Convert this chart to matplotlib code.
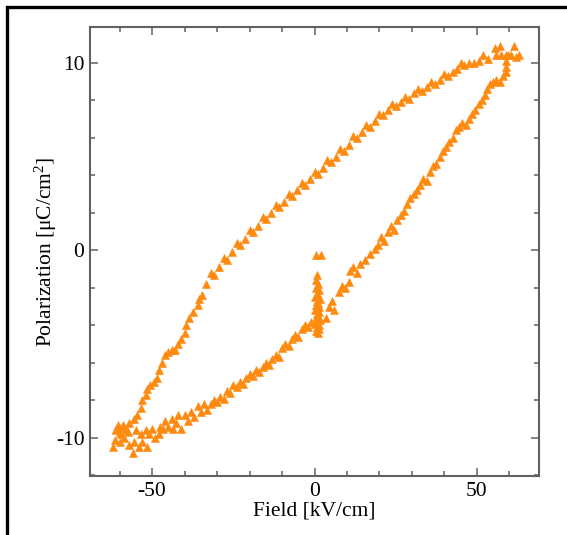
import matplotlib
matplotlib.use("Agg")
import matplotlib.pyplot as plt
from matplotlib.patches import Rectangle

plt.rcParams['font.family'] = ['Liberation Serif', 'DejaVu Serif']
plt.rcParams['mathtext.fontset'] = 'custom'
plt.rcParams['mathtext.rm'] = 'Liberation Serif'
plt.rcParams['mathtext.it'] = 'Liberation Serif:italic'

# ---- data (field in kV/cm, polarization in uC/cm^2) ----
virgin_E = [0.6, 2.0, 0.9, 0.6, 1.2, 0.4, 1.5, 0.8, 1.1, 0.3, 1.6, 0.7, 1.2, 0.5, 1.4,
            0.9, 0.2, 1.5, 0.8, 1.2, 0.4, 1.6, 0.9, 0.3, 1.3, 0.7, 1.5, 0.5, 1.0]
virgin_P = [-0.25, -0.25, -1.3, -1.6, -1.8, -2.0, -2.1, -2.3, -2.4, -2.5, -2.6, -2.7, -2.8, -2.9, -3.0,
            -3.1, -3.2, -3.3, -3.4, -3.5, -3.6, -3.7, -3.8, -3.9, -4.0, -4.1, -4.2, -4.3, -4.4]

ascend_E = [3.5, 4.5, 5.5, 6.0, 7.5, 8.5, 9.5, 10.5, 11.0, 12.0, 13.0, 14.0, 15.5, 17.0, 18.5,
            19.5, 20.5, 21.5, 22.5, 23.5, 24.5, 25.5, 26.5, 27.5, 28.5, 29.5, 30.5, 31.5, 32.5,
            33.5, 34.5, 35.5, 36.5, 37.5, 38.5, 39.5, 40.5, 41.5, 42.5, 43.5, 44.5, 45.5, 46.5,
            47.5, 48.5, 49.5, 50.5, 51.5, 52.5, 53.0, 54.0, 55.0, 56.0, 57.0, 58.0, 59.0, 59.0,
            59.0, 59.5]
ascend_P = [-3.6, -3.0, -2.7, -3.2, -2.2, -1.9, -2.0, -1.7, -1.1, -0.9, -1.2, -0.7, -0.5, -0.2, 0.1,
            0.3, 0.7, 0.5, 1.0, 1.3, 1.1, 1.6, 1.9, 2.1, 2.5, 2.8, 3.0, 3.2, 3.5,
            3.8, 3.7, 4.2, 4.5, 4.6, 5.0, 5.3, 5.5, 5.8, 6.0, 6.4, 6.6, 6.8, 6.7,
            7.0, 7.3, 7.5, 7.8, 8.0, 8.3, 8.6, 8.9, 9.0, 9.1, 9.0, 9.3, 9.5, 9.8,
            10.1, 10.4]

top_E = [55.5, 57.0, 61.5, 56.0, 57.5, 59.0, 60.5, 62.0, 63.0, 52.0, 53.5]
top_P = [10.8, 10.9, 10.9, 10.4, 10.4, 10.4, 10.4, 10.3, 10.4, 10.4, 10.2]

descend_E = [50.5, 49.0, 47.5, 46.0, 45.0, 44.0, 42.5, 41.0, 40.0, 38.5, 37.0, 36.0, 34.5, 33.0,
             32.0, 30.5, 29.0, 28.0, 26.5, 25.0, 24.0, 22.5, 21.0, 20.0, 18.5, 17.0, 16.0, 14.5,
             13.0, 12.0, 10.5, 9.0, 8.0, 6.5, 5.0, 4.0, 2.5, 1.0, 0.0, -1.5, -3.0, -4.0, -5.5,
             -7.0, -8.0, -9.5, -11.0, -12.0, -13.5, -15.0, -16.0, -17.5, -19.0, -20.0, -21.5,
             -23.0, -24.0, -25.5, -27.0, -28.0, -29.5, -31.0, -32.0, -33.5, -34.5, -35.5, -36.0,
             -37.5, -38.5, -39.5, -40.0, -41.0, -42.0, -43.0, -44.0, -45.0, -46.0, -47.0, -48.0,
             -48.5, -49.5, -50.5, -51.5, -52.0, -53.0, -53.5, -54.5, -55.5, -57.0, -58.0, -59.0,
             -60.0, -61.0]
descend_P = [10.1, 10.0, 10.0, 9.9, 10.0, 9.7, 9.5, 9.3, 9.4, 9.1, 8.9, 9.0, 8.7, 8.5,
             8.6, 8.4, 8.1, 8.2, 7.9, 7.7, 7.8, 7.5, 7.2, 7.3, 6.9, 6.6, 6.7, 6.3,
             6.0, 6.1, 5.6, 5.3, 5.4, 5.0, 4.7, 4.8, 4.4, 4.1, 4.2, 3.8, 3.5, 3.6, 3.2,
             2.9, 3.0, 2.6, 2.3, 2.4, 2.0, 1.7, 1.8, 1.3, 1.0, 1.1, 0.6,
             0.3, 0.4, -0.1, -0.5, -0.4, -0.9, -1.3, -1.2, -1.8, -2.4, -2.6, -2.9,
             -3.3, -3.6, -4.0, -4.4, -4.7, -5.0, -5.3, -5.3, -5.4, -5.6, -6.0, -6.4,
             -6.8, -7.0, -7.2, -7.4, -7.7, -8.0, -8.4, -8.8, -9.0, -9.2, -9.5, -9.4,
             -9.7, -9.5]

return_E = [-62.0, -61.5, -61.0, -60.5, -60.0, -59.5, -59.0, -58.5, -58.0, -57.5, -57.0, -56.0,
            -55.5, -55.0, -54.0, -53.5, -53.0, -52.0, -51.5, -51.0, -50.0, -49.0, -48.0, -47.5,
            -46.5, -46.0, -45.0, -44.0, -43.5, -42.5, -42.0, -41.0, -40.0, -39.0, -38.0, -37.0,
            -36.0, -35.0, -34.0, -33.0, -32.0, -31.0, -30.0, -29.0, -28.0, -27.0, -26.0, -25.0,
            -24.0, -23.0, -22.0, -21.0, -20.0, -19.0, -18.0, -17.0, -16.0, -15.0, -14.0, -13.0,
            -12.0, -11.0, -10.0, -9.0, -8.0, -7.0, -6.0, -5.0, -4.0, -3.0, -2.0, -1.0]
return_P = [-10.5, -10.1, -9.6, -9.3, -10.2, -9.8, -9.3, -10.0, -9.5, -9.7, -10.4, -10.8,
            -10.2, -9.6, -10.5, -9.8, -10.2, -9.6, -10.5, -9.8, -9.5, -10.0, -9.8, -9.4,
            -9.5, -9.1, -9.4, -9.0, -9.5, -9.2, -8.8, -9.5, -8.8, -9.1, -8.6, -8.9,
            -8.3, -8.6, -8.2, -8.5, -8.2, -8.0, -8.1, -7.8, -7.9, -7.5, -7.6, -7.2,
            -7.3, -7.0, -7.1, -6.8, -6.6, -6.7, -6.4, -6.5, -6.2, -6.0, -6.1, -5.8,
            -5.6, -5.7, -5.2, -5.0, -5.1, -4.7, -4.5, -4.6, -4.2, -4.0, -4.1, -3.8]

x_ticks = [-50, 0, 50]
x_ticklabels = ['-50', '0', '50']
y_ticks = [-10, 0, 10]
y_ticklabels = ['-10', '0', '10']

# ---- figure ----
fig = plt.figure(figsize=(5.67, 5.35), dpi=100)
ax = fig.add_axes([90 / 567, 1 - 476 / 535, (539 - 90) / 567, (476 - 27) / 535])

col = '#ff8a10'
for E, P in [(virgin_E, virgin_P), (ascend_E, ascend_P), (top_E, top_P),
             (descend_E, descend_P), (return_E, return_P)]:
    ax.plot(E, P, linestyle='none', marker='^', ms=5.2, color=col, mec=col, mew=0.4)

ax.set_xlim(-69.1, 69.1)
ax.set_ylim(-12.03, 11.92)
ax.set_xticks(x_ticks)
ax.set_xticklabels(x_ticklabels)
ax.set_yticks(y_ticks)
ax.set_yticklabels(y_ticklabels)
ax.set_xticks(range(-60, 70, 10), minor=True)
ax.set_yticks(range(-12, 12, 2), minor=True)

spc = '#606060'
for s in ax.spines.values():
    s.set_color(spc)
    s.set_linewidth(1.5)
ax.tick_params(which='both', direction='in', top=True, right=True, color=spc,
               labelsize=15.5, labelcolor='black', width=1.1)
ax.tick_params(which='major', length=6, pad=4)
ax.tick_params(which='minor', length=3.5)

ax.set_xlabel('Field [kV/cm]', fontsize=15.5, labelpad=1)
ax.set_ylabel('Polarization [μC/cm$^2$]', fontsize=15.5, labelpad=-2)

fig.add_artist(Rectangle((6.5 / 567, -0.2), 1.5, 1 - 6.5 / 535 + 0.2, fill=False,
                         lw=2.4, ec='black', transform=fig.transFigure))

fig.savefig('out.png', dpi=100)
